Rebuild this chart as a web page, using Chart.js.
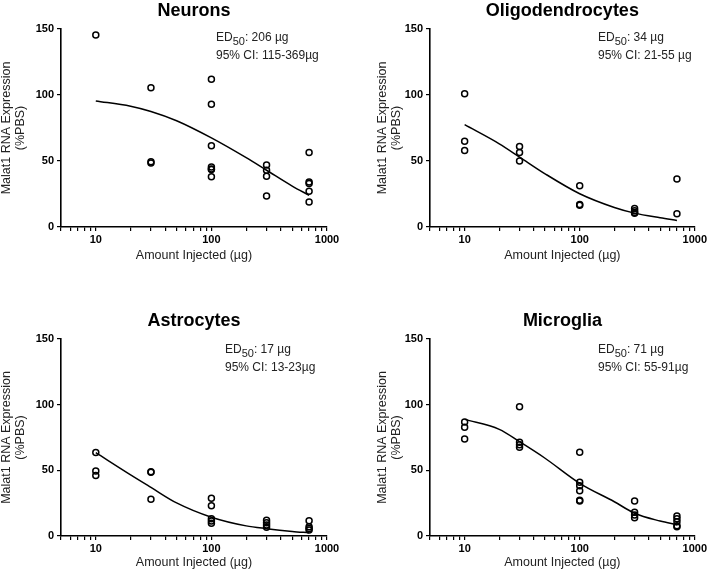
<!DOCTYPE html>
<html>
<head>
<meta charset="utf-8">
<script src="https://cdn.jsdelivr.net/npm/chart.js@4.4.1/dist/chart.umd.min.js"></script>
<style>
  html, body { margin: 0; padding: 0; background: #fff; }
  body { width: 709px; height: 572px; overflow: hidden; position: relative;
         font-family: "Liberation Sans", Arial, sans-serif; }
  .panel { position: absolute; }
  .note { position: absolute; font-size: 12px; line-height: 17.5px; color: #222; white-space: nowrap; }
  .note .sub { font-size: 11px; position: relative; top: 4px; }
</style>
</head>
<body>
<div class="panel" style="left:0px;top:0px"><canvas id="c1" width="354" height="280"></canvas></div>
<div class="panel" style="left:369px;top:0px"><canvas id="c2" width="340" height="280"></canvas></div>
<div class="panel" style="left:0px;top:310px"><canvas id="c3" width="354" height="262"></canvas></div>
<div class="panel" style="left:369px;top:310px"><canvas id="c4" width="340" height="262"></canvas></div>

<div class="note" style="left:216px;top:29px">ED<span class="sub">50</span>: 206 µg<br>95% CI: 115-369µg</div>
<div class="note" style="left:598px;top:29px">ED<span class="sub">50</span>: 34 µg<br>95% CI: 21-55 µg</div>
<div class="note" style="left:225px;top:341px">ED<span class="sub">50</span>: 17 µg<br>95% CI: 13-23µg</div>
<div class="note" style="left:598px;top:341px">ED<span class="sub">50</span>: 71 µg<br>95% CI: 55-91µg</div>

<script>
// ---- Data ----
const fitDoses = [10, 20, 30, 50, 100, 200, 300, 500, 700];

const neuronsDose = [10, 30, 30, 30, 100, 100, 100, 100, 100, 100, 100, 300, 300, 300, 300, 700, 700, 700, 700, 700];
const neuronsExpr = [145.5, 105.5, 49.5, 48.5, 112, 93, 61.5, 45.5, 44, 43.5, 38, 47, 43, 38.5, 23.5, 56.5, 34, 33, 27, 19];
const neuronsFit  = [95.5, 91.5, 87.5, 80.5, 67.5, 52.5, 43, 31, 24];

const oligoDose = [10, 10, 10, 30, 30, 30, 100, 100, 100, 300, 300, 300, 300, 700, 700];
const oligoExpr = [101, 65, 58, 61, 56.5, 50, 31.3, 17, 16.4, 14, 12.4, 11, 10.4, 36.4, 10];
const oligoFit  = [77.5, 63, 53, 40.3, 25.2, 14.8, 10.5, 7, 5];

const astroDose = [10, 10, 10, 30, 30, 30, 100, 100, 100, 100, 100, 300, 300, 300, 300, 700, 700, 700, 700];
const astroExpr = [63.5, 49.5, 46, 49, 48.5, 28, 28.7, 23, 13.2, 11.4, 9.7, 12, 10, 8.4, 6.6, 11.7, 7, 5.8, 4.5];
const astroFit  = [63.4, 46.5, 37, 25.2, 14.3, 7.7, 5.6, 3.5, 2.5];

const microDose = [10, 10, 10, 30, 30, 30, 30, 100, 100, 100, 100, 100, 100, 300, 300, 300, 300, 700, 700, 700, 700, 700];
const microExpr = [86.8, 82.8, 73.9, 98.5, 71.3, 69.5, 67.5, 63.7, 40.9, 38.3, 34.5, 27.2, 26.6, 26.6, 18, 16, 13.9, 15.2, 13.2, 10.9, 7.8, 7.1];
const microFit  = [88.8, 81.2, 71.8, 59.2, 40.1, 26.1, 17.3, 11.4, 8.6];

const xTickValues  = [5, 6, 7, 8, 9, 10, 20, 30, 40, 50, 60, 70, 80, 90, 100, 200, 300, 400, 500, 600, 700, 800, 900, 1000];
const xLabelValues = [10, 100, 1000];
const yTickValues  = [0, 50, 100, 150];

const xAxisTitle = 'Amount Injected (µg)';
const yAxisTitle = ['Malat1 RNA Expression', '(%PBS)'];

// ---- Chart construction ----
const FONT = '"Liberation Sans", Arial, sans-serif';
Chart.defaults.font.family = FONT;
Chart.defaults.color = '#000';

function makePanel(id, title, dose, expr, fit, opt) {
  const pts = dose.map((d, i) => ({ x: d, y: expr[i] }));
  const curve = fitDoses.map((d, i) => ({ x: d, y: fit[i] }));
  new Chart(document.getElementById(id), {
    type: 'scatter',
    data: {
      datasets: [
        {
          data: curve, showLine: true, pointRadius: 0, borderColor: '#000',
          borderWidth: 1.5, cubicInterpolationMode: 'monotone', fill: false, clip: false
        },
        {
          data: pts, showLine: false, pointStyle: 'circle', pointRadius: 3,
          borderColor: '#000', backgroundColor: 'rgba(0,0,0,0)', pointBorderWidth: 1.5,
          borderWidth: 1.5, clip: false
        }
      ]
    },
    options: {
      responsive: false, animation: false, events: [],
      layout: { padding: { left: 0, right: opt.padRight, top: 0, bottom: 0 } },
      plugins: {
        legend: { display: false },
        tooltip: { enabled: false },
        title: {
          display: true, text: title, fullSize: false, color: '#000',
          font: { size: 18, weight: 'bold', family: FONT },
          padding: { top: 0, bottom: 7.4 }
        }
      },
      scales: {
        x: {
          type: 'logarithmic', min: 5, max: 1000,
          afterBuildTicks: s => { s.ticks = xTickValues.map(v => ({ value: v, major: xLabelValues.includes(v) })); },
          afterFit: s => { s.height = opt.xAxisHeight; },
          ticks: {
            autoSkip: false, maxRotation: 0, minRotation: 0, padding: 2,
            font: { size: 11, weight: 'bold', family: FONT }, color: '#000',
            callback: v => xLabelValues.includes(v) ? String(v) : ''
          },
          grid: { display: true, drawOnChartArea: false, drawTicks: true, tickLength: 4, color: '#000', lineWidth: 1.2 },
          border: { display: true, color: '#000', width: 1.6 },
          title: {
            display: true, text: xAxisTitle, color: '#222',
            font: { size: 12.5, family: FONT, lineHeight: 1.2 },
            padding: { top: 0, bottom: opt.xTitlePad }
          }
        },
        y: {
          type: 'linear', min: 0, max: 150,
          afterBuildTicks: s => { s.ticks = yTickValues.map(v => ({ value: v })); },
          afterFit: s => { s.width = 61; },
          ticks: {
            padding: 3, font: { size: 11, weight: 'bold', family: FONT }, color: '#000'
          },
          grid: { display: true, drawOnChartArea: false, drawTicks: true, tickLength: 4, color: '#000', lineWidth: 1.2 },
          border: { display: true, color: '#000', width: 1.6 },
          title: {
            display: true, text: yAxisTitle, color: '#222',
            font: { size: 12.5, family: FONT, lineHeight: 1.1 },
            padding: { top: opt.yTitlePad, bottom: 0 }
          }
        }
      }
    }
  });
}

makePanel('c1', 'Neurons', neuronsDose, neuronsExpr, neuronsFit,
  { padRight: 27, xAxisHeight: 53, xTitlePad: 16.5, yTitlePad: 0 });
makePanel('c2', 'Oligodendrocytes', oligoDose, oligoExpr, oligoFit,
  { padRight: 11, xAxisHeight: 53, xTitlePad: 16.5, yTitlePad: 7 });
makePanel('c3', 'Astrocytes', astroDose, astroExpr, astroFit,
  { padRight: 27, xAxisHeight: 36, xTitlePad: 1.5, yTitlePad: 0 });
makePanel('c4', 'Microglia', microDose, microExpr, microFit,
  { padRight: 11, xAxisHeight: 36, xTitlePad: 1.5, yTitlePad: 7 });
</script>
</body>
</html>
